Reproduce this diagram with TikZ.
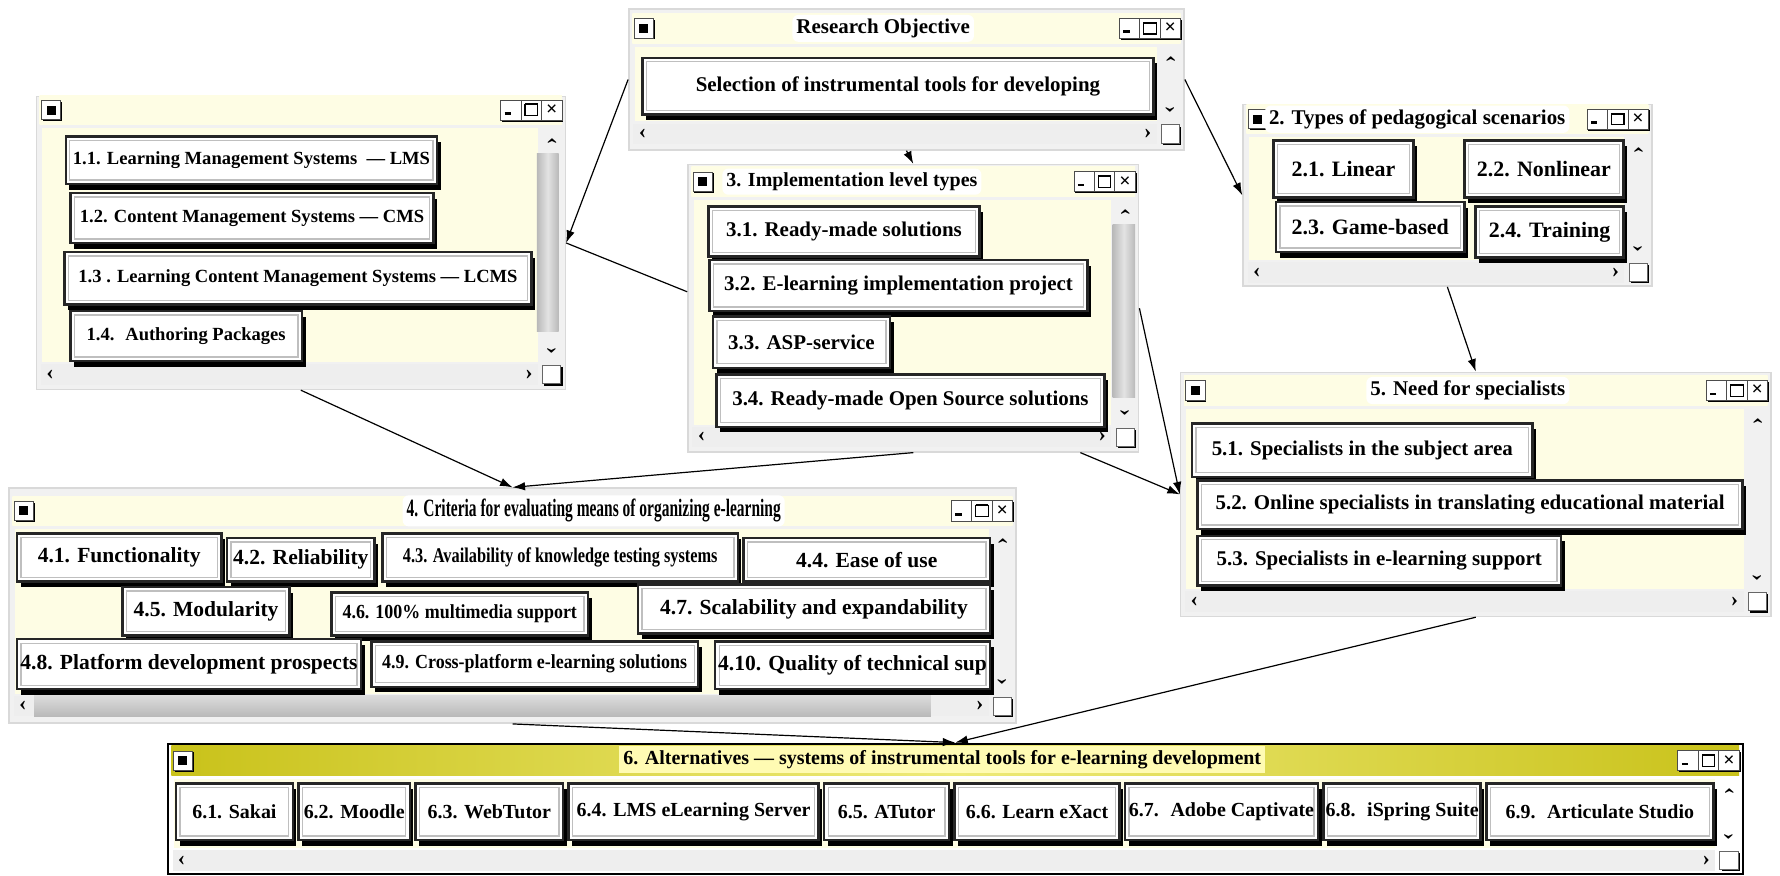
\documentclass[tikz,border=0pt]{standalone}
\usepackage{fontspec}
\setmainfont{Liberation Serif}
\usepackage{graphicx}
\usetikzlibrary{shadows, fit, positioning, arrows.meta}

\definecolor{paleyel}{HTML}{FEFDE4}
\definecolor{winframe}{HTML}{F1F1F1}
\definecolor{olivebar}{HTML}{C9C21A}
\definecolor{olivelight}{HTML}{EEEA78}

\newcommand{\narrowtxt}[2]{\scalebox{#1}[1]{#2}}

\begin{document}
\begin{tikzpicture}[
        x=0.2mm, y=-0.2mm,
        % Global Styles
        win/.style={rectangle, draw=gray!30, fill=winframe, inner sep=0pt, line width=0.8pt},
        item/.style={rectangle, draw=black!85, line width=1.3pt, fill=white, inner sep=1pt, outer sep=0pt, anchor=north west, font=\bfseries\fontsize{10.5}{12}\selectfont, general shadow={fill=black, shadow xshift=1.8pt, shadow yshift=-2.8pt}, path picture={\draw[gray!50, line width=0.6pt] ([shift={(2pt,-2pt)}]path picture bounding box.north west) rectangle ([shift={(-2pt,2pt)}]path picture bounding box.south east);}},
        sysitem/.style={item, font=\bfseries\fontsize{9.3}{11}\selectfont},
        scenitem/.style={item, font=\bfseries\fontsize{11}{13}\selectfont},
        crititem/.style={item, font=\bfseries\fontsize{10.8}{12}\selectfont},
        altitem/.style={item, font=\bfseries\fontsize{10}{12}\selectfont, minimum height=10mm},
        wintitle/.style={fill=white, rounded corners=3pt, inner sep=2pt, font=\bfseries\fontsize{10.5}{12}\selectfont},
        menubtn/.style={draw=black!70, fill=white, minimum size=3.4mm, inner sep=0pt, general shadow={fill=black, shadow xshift=0.7pt, shadow yshift=-0.7pt}, path picture={\fill[black] ([shift={(-0.8mm,-0.8mm)}]path picture bounding box.center) rectangle ([shift={(0.8mm,0.8mm)}]path picture bounding box.center);}},
        ctlbtn/.style={draw=black!70, fill=white, minimum width=3.6mm, minimum height=3.6mm, inner sep=0pt, general shadow={fill=black, shadow xshift=0.7pt, shadow yshift=-0.7pt}},
        ctlmin/.style={ctlbtn, path picture={\draw[black, line width=1.3pt] ([shift={(-1.1mm,-0.6mm)}]path picture bounding box.center) -- ++(1.1mm,0mm);}},
        ctlmax/.style={ctlbtn, path picture={\draw[black, line width=0.6pt] ([shift={(-1.1mm,-1mm)}]path picture bounding box.center) rectangle ([shift={(1.1mm,1mm)}]path picture bounding box.center); \draw[black, line width=1pt] ([shift={(-1.1mm,1mm)}]path picture bounding box.center) -- ++(2.2mm,0mm);}},
        ctlclose/.style={ctlbtn, font=\bfseries\fontsize{10}{10}\selectfont},
        corner/.style={draw=black!60, fill=white, minimum size=3.2mm, inner sep=0pt, general shadow={fill=black, shadow xshift=0.9pt, shadow yshift=-0.9pt}},
        chev/.style={inner sep=0pt, font=\bfseries\fontsize{11}{11}\selectfont},
        line/.style={draw, -{Latex[length=2.2mm, width=1.5mm]}, line width=0.6pt}, % Standard Arrow
        connector/.style={draw, line width=0.6pt} % Line WITHOUT arrow head
    ]

    \fill [white] (0,0) rectangle (1568,771);
    \useasboundingbox (0,0) rectangle (1568,771);

    % --- Windows ---
    \node [win, fit={(554,8) (1043,132)}] (objective) {};
    \node [win, fit={(32,85) (498,343)}] (systems) {};
    \node [win, fit={(606,145) (1003,398)}] (levels) {};
    \node [win, fit={(1095,92) (1455,252)}] (scenarios) {};
    \node [win, fit={(1040,328) (1560,543)}] (specialists) {};
    \node [win, fit={(8,430) (895,637)}] (criteria) {};
    \node [win, draw=black, line width=1pt, fill=white, fit={(148,655) (1535,770)}] (alternatives) {};

    % Title bars, panes, scroll rows and buttons
    \foreach \xl/\xr/\yt/\yb/\bandA/\bandB in {554/1043/25/118/paleyel/paleyel, 32/498/97/330/paleyel/paleyel, 606/1003/160/385/paleyel/paleyel, 1095/1455/105/240/paleyel/paleyel, 1040/1560/344/530/paleyel/paleyel, 8/895/450/622/paleyel/paleyel, 148/1535/670/758/olivebar/olivelight} {
        \shade [left color=\bandA, right color=\bandA, middle color=\bandB] (\xl+3,\yt-13) rectangle (\xr-3,\yt+13);
        \fill [paleyel] (\xl+5,\yt+16) rectangle (\xr-24,\yb-11);
        \fill [gray!13] (\xl+4,\yb-9) rectangle (\xr-24,\yb+9);
        \node [menubtn] at (\xl+13,\yt) {};
        \node [ctlmin] at (\xr-48,\yt) {};
        \node [ctlmax] at (\xr-30,\yt) {};
        \node [ctlclose] at (\xr-12,\yt) {×};
        \node [chev, rotate=-90] at (\xr-12,\yt+27) {‹};
        \node [chev, rotate=90] at (\xr-12,\yb-21) {‹};
        \node [chev] at (\xl+12,\yb) {‹};
        \node [chev] at (\xr-32,\yb) {›};
        \node [corner] at (\xr-12,\yb) {};
    }

    % Scroll thumbs
    \shade [left color=gray!55, right color=gray!55, middle color=gray!22] (473,135) rectangle (492,292);
    \shade [left color=gray!55, right color=gray!55, middle color=gray!22] (980,198) rectangle (1000,350);
    \shade [top color=gray!28, bottom color=gray!55] (30,613) rectangle (820,631);

    % --- Titles ---
    \node [wintitle] (objtitle) at (778,25) {Research Objective};
    \node [wintitle, anchor=west, font=\bfseries\fontsize{10}{12}\selectfont] (leveltitle) at (636,160) {3. Implementation level types};
    \node [wintitle, anchor=west] (scentitle) at (1114,105) {2. Types of pedagogical scenarios};
    \node [wintitle] (spectitle) at (1293,344) {5. Need for specialists};
    \node [wintitle, font=\bfseries\fontsize{12.5}{14}\selectfont] (crittitle) at (523,450) {\narrowtxt{0.62}{4. Criteria for evaluating means of organizing e-learning}};
    \node [wintitle, fill=yellow!30, rounded corners=0pt, font=\bfseries\fontsize{10}{12}\selectfont] (alttitle) at (830,669) {6. Alternatives — systems of instrumental tools for e-learning development};

    % --- Nodes ---

    % Research objective
    \node [item, minimum width=90mm, minimum height=10mm] (selection) at (566,51) {Selection of instrumental tools for developing};

    % 1. Systems
    \node [sysitem, minimum width=65.4mm, minimum height=8.4mm] (lms) at (58,120) {1.1. Learning Management Systems \ — LMS};
    \node [sysitem, minimum width=64mm, minimum height=8.8mm] (cms) at (62,170) {1.2. Content Management Systems — CMS};
    \node [sysitem, minimum width=82.2mm, minimum height=9.2mm] (lcms) at (57,222) {1.3 . Learning Content Management Systems — LCMS};
    \node [sysitem, minimum width=40.8mm, minimum height=8.8mm] (authoring) at (62,274) {1.4. \ Authoring Packages};

    % 2. Pedagogical scenarios
    \node [scenitem, minimum width=24.6mm, minimum height=10mm] (linear) at (1122,124) {2.1. Linear};
    \node [scenitem, minimum width=28mm, minimum height=10mm] (nonlinear) at (1290,124) {2.2. Nonlinear};
    \node [scenitem, minimum width=33.2mm, minimum height=8.8mm] (game) at (1124,178) {2.3. Game-based};
    \node [scenitem, minimum width=26mm, minimum height=9mm] (training) at (1300,182) {2.4. Training};

    % 3. Implementation levels
    \node [item, minimum width=47.8mm, minimum height=8.8mm] (ready) at (624,182) {3.1. Ready-made solutions};
    \node [item, minimum width=66.6mm, minimum height=9mm] (project) at (625,229) {3.2. E-learning implementation project};
    \node [item, minimum width=31.2mm, minimum height=9mm] (asp) at (628,279) {3.3. ASP-service};
    \node [item, minimum width=68.4mm, minimum height=9.2mm] (opensource) at (631,330) {3.4. Ready-made Open Source solutions};

    % 5. Specialists
    \node [item, minimum width=60mm, minimum height=9.4mm] (subject) at (1050,373) {5.1. Specialists in the subject area};
    \node [item, minimum width=96mm, minimum height=8.6mm] (online) at (1055,423) {5.2. Online specialists in translating educational material};
    \node [item, minimum width=64mm, minimum height=8.8mm] (support) at (1055,472) {5.3. Specialists in e-learning support};

    % 4. Criteria
    \node [crititem, minimum width=36mm, minimum height=8.4mm] (functionality) at (15,470) {4.1. Functionality};
    \node [crititem, minimum width=26mm, minimum height=7.6mm] (reliability) at (200,474) {4.2. Reliability};
    \node [crititem, minimum width=62.6mm, minimum height=8.4mm] (testing) at (337,470) {\fontsize{10.5}{12}\selectfont\narrowtxt{0.78}{4.3. Availability of knowledge testing systems}};
    \node [crititem, minimum width=43.4mm, minimum height=7.6mm] (ease) at (655,474) {4.4. Ease of use};
    \node [crititem, minimum width=29.4mm, minimum height=8.6mm] (modularity) at (108,517) {4.5. Modularity};
    \node [crititem, minimum width=45.2mm, minimum height=7.6mm] (multimedia) at (292,522) {\fontsize{10}{12}\selectfont\narrowtxt{0.9}{4.6. 100\% multimedia support}};
    \node [crititem, minimum width=62mm, minimum height=8.6mm] (scalability) at (562,515) {4.7. Scalability and expandability};
    \node [crititem, minimum width=60.6mm, minimum height=8.8mm] (prospects) at (15,563) {4.8. Platform development prospects};
    \node [crititem, minimum width=57.6mm, minimum height=8mm] (crossplatform) at (327,565) {\fontsize{10}{12}\selectfont\narrowtxt{0.9}{4.9. Cross-platform e-learning solutions}};
    \node [crititem, minimum width=48.4mm, minimum height=8.4mm] (techsupport) at (630,565) {4.10. Quality of technical sup};

    % 6. Alternatives (one row)
    \node [altitem, minimum width=20.6mm] (sakai) at (155,690) {6.1. Sakai};
    \node [altitem, minimum width=19.6mm, right=1mm of sakai] (moodle) {6.2. Moodle};
    \node [altitem, minimum width=26mm, right=1mm of moodle] (webtutor) {6.3. WebTutor};
    \node [altitem, minimum width=44mm, right=1mm of webtutor] (elserver) {6.4. LMS eLearning Server};
    \node [altitem, minimum width=22mm, right=1mm of elserver] (atutor) {6.5. ATutor};
    \node [altitem, minimum width=29mm, right=1mm of atutor] (learnexact) {6.6. Learn eXact};
    \node [altitem, minimum width=34mm, right=1mm of learnexact] (captivate) {6.7. \ Adobe Captivate};
    \node [altitem, minimum width=27mm, right=1mm of captivate] (ispring) {6.8. \ iSpring Suite};
    \node [altitem, minimum width=40mm, right=1mm of ispring] (articulate) {6.9. \ Articulate Studio};

    % --- Paths ---
    \draw [line] (objective.west) -- (systems.east);
    \draw [connector] ([yshift=2.9mm]levels.west) -- (systems.east);
    \draw [line] (objective.south) -- (levels.north);
    \draw [line] (objective.east) -- (scenarios.west);
    \draw [line] (scenarios.south) -- (specialists.north);
    \draw [line] (levels.east) -- (specialists.west);
    \draw [line] ([xshift=-10.4mm]levels.south east) -- (specialists.west);
    \draw [line] (systems.south) -- (criteria.north);
    \draw [line] (levels.south) -- (criteria.north);
    \draw [line] (criteria.south) -- (alternatives.north);
    \draw [line] (specialists.south) -- (alternatives.north);

\end{tikzpicture}
\end{document}
